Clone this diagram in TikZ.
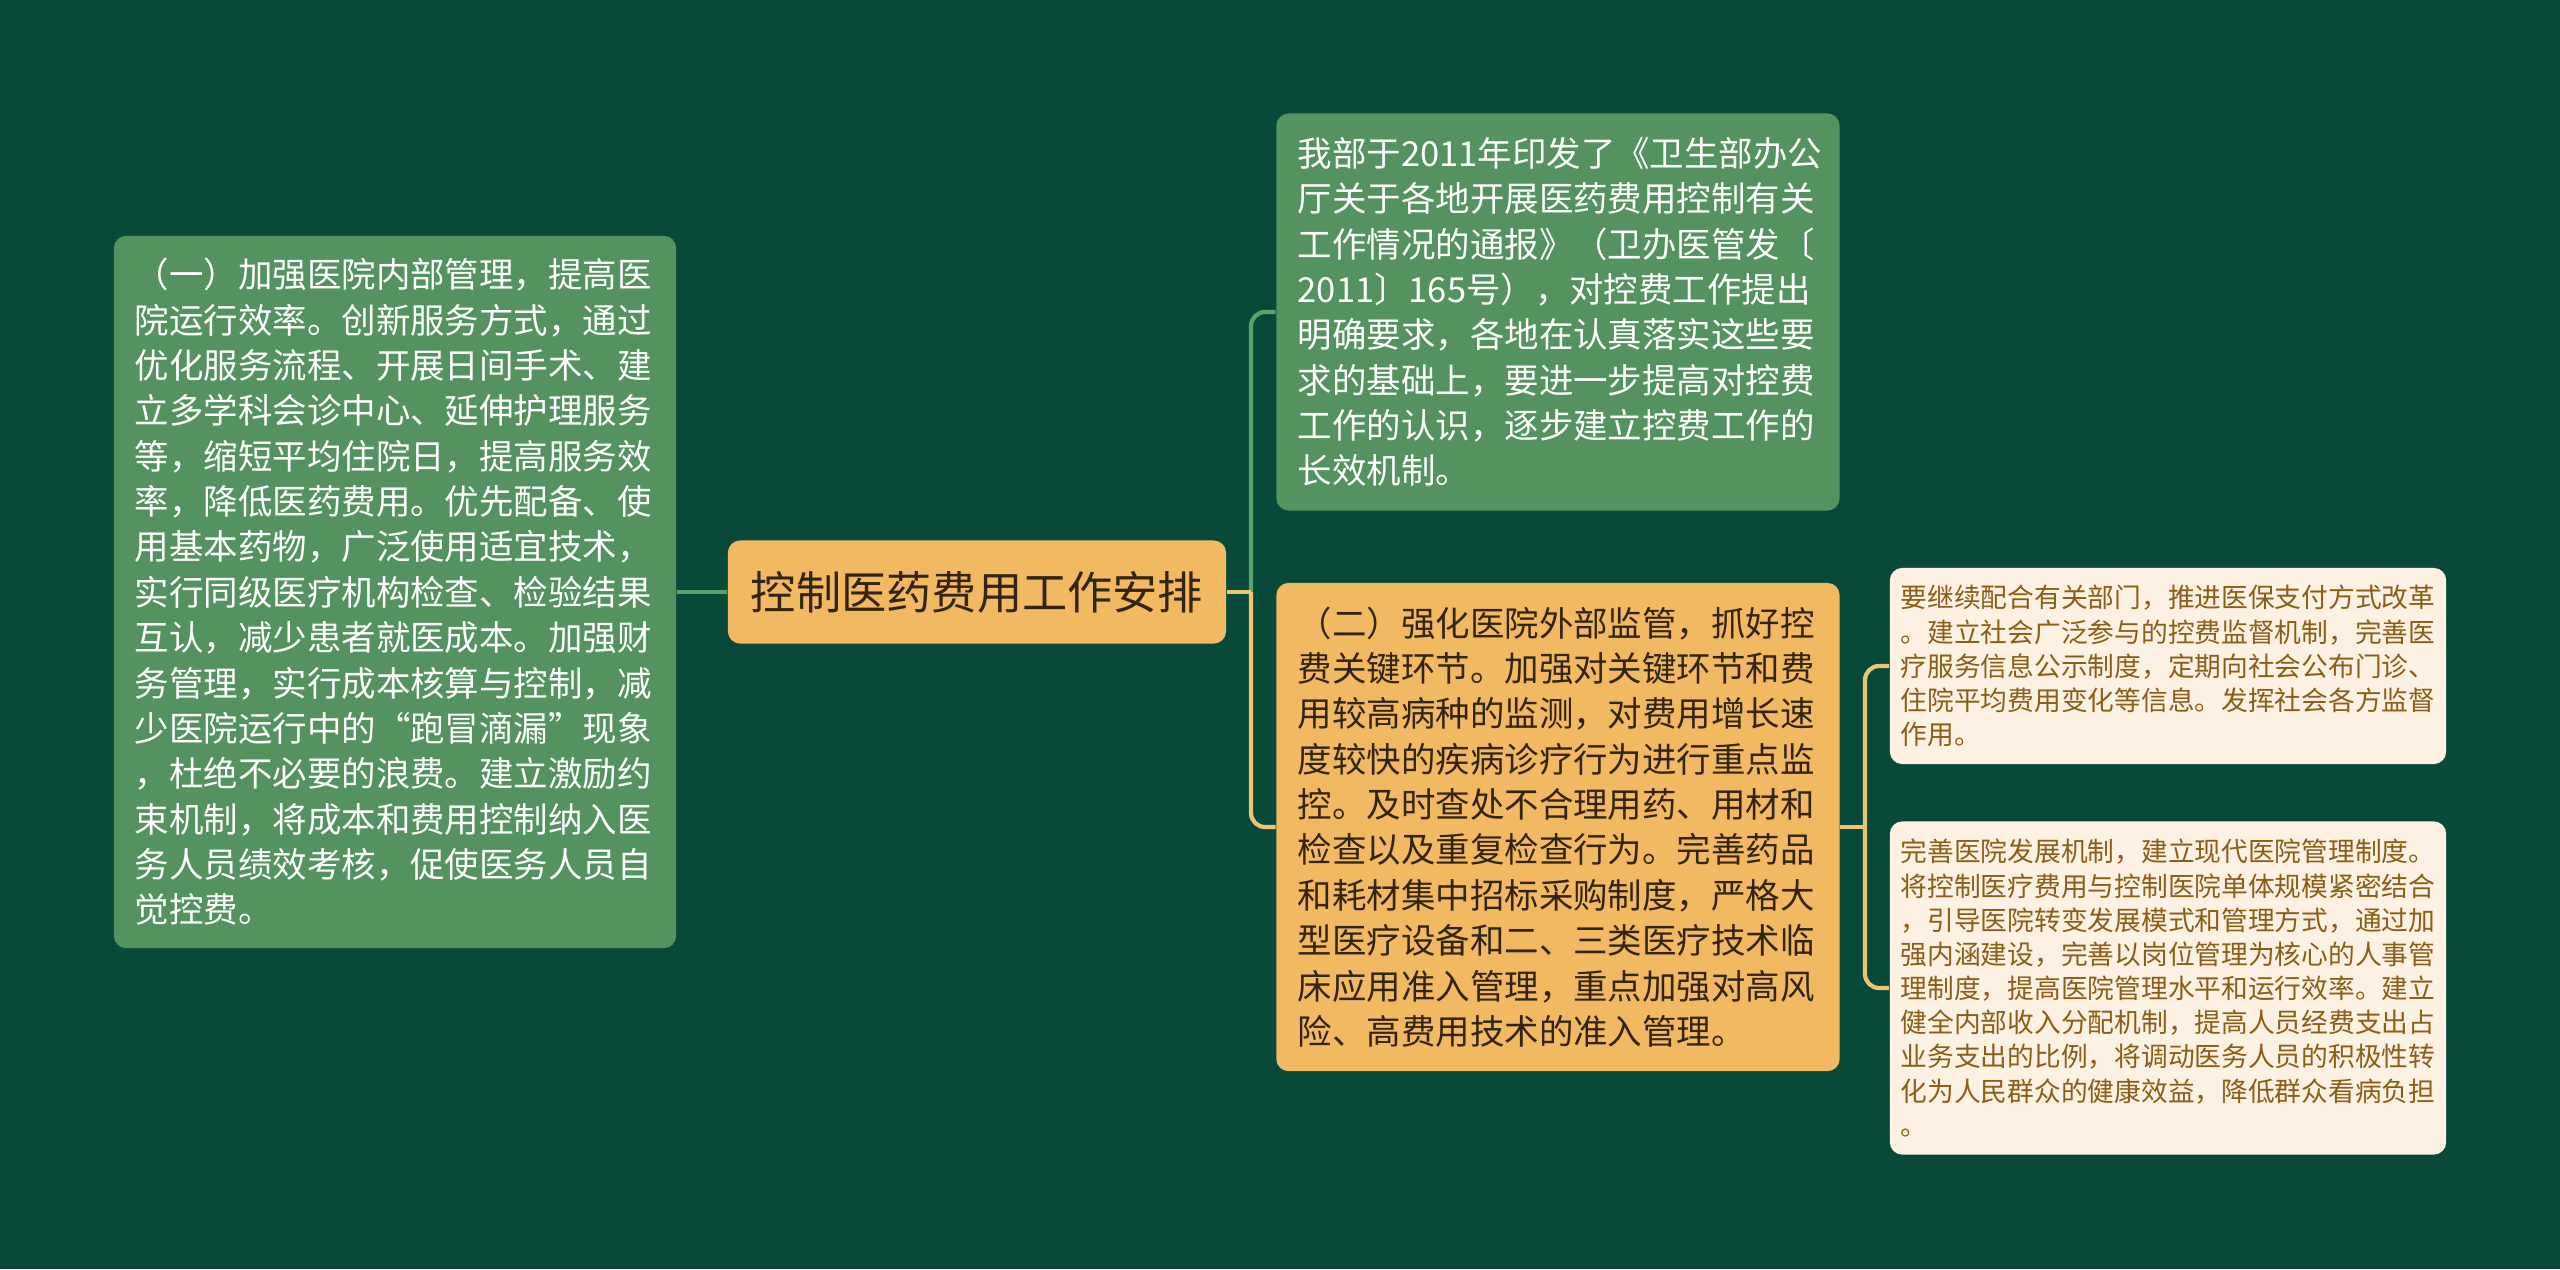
\documentclass[tikz,border=0pt]{standalone}
\usepackage{fontspec}
\setmainfont{Noto Sans CJK SC}
\usepackage{xcolor}
\usepackage{tikz}
\definecolor{darkbg}{RGB}{9, 73, 58}
\definecolor{leafgreen}{RGB}{84, 147, 96}
\definecolor{warmorange}{RGB}{240, 185, 98}
\definecolor{paper}{RGB}{253, 241, 227}
\definecolor{inkbrown}{RGB}{139, 94, 23}
\definecolor{inkdark}{RGB}{50, 36, 16}
\definecolor{linegreen}{RGB}{92, 160, 108}
\definecolor{lineyellow}{RGB}{236, 196, 116}

\begin{document}
\begin{tikzpicture}[x = 0.01cm, y = -0.01cm,
	every node/.style = {align = left, rounded corners = 3.5pt, inner sep = 0pt},
	greenbox/.style = {fill = leafgreen, text = white, text width = 148pt, font = \fontsize{9.8pt}{12.9pt}\selectfont},
	orangebox/.style = {fill = warmorange, text = inkdark, text width = 148pt, font = \fontsize{9.8pt}{12.9pt}\selectfont},
	paperbox/.style = {fill = paper, text = inkbrown, text width = 152pt, font = \fontsize{7.6pt}{9.72pt}\selectfont},
	gline/.style = {draw = linegreen, line width = 1.2pt},
	yline/.style = {draw = lineyellow, line width = 1.2pt}]
	\fill[darkbg] (0,0) rectangle (2560,1269);
	\node (root) at (977,592) [fill = warmorange, text = inkdark, align = center, minimum width = 4.98cm, minimum height = 1.03cm, font = \fontsize{12.86pt}{15pt}\selectfont] {控制医药费用工作安排};
	\node (left) at (395,592) [greenbox, minimum width = 5.62cm, minimum height = 7.12cm] {（一）加强医院内部管理，提高医\\院运行效率。创新服务方式，通过\\优化服务流程、开展日间手术、建\\立多学科会诊中心、延伸护理服务\\等，缩短平均住院日，提高服务效\\率，降低医药费用。优先配备、使\\用基本药物，广泛使用适宜技术，\\实行同级医疗机构检查、检验结果\\互认，减少患者就医成本。加强财\\务管理，实行成本核算与控制，减\\少医院运行中的“跑冒滴漏”现象\\，杜绝不必要的浪费。建立激励约\\束机制，将成本和费用控制纳入医\\务人员绩效考核，促使医务人员自\\觉控费。};
	\node (topg) at (1558,312) [greenbox, minimum width = 5.63cm, minimum height = 3.97cm] {我部于2011年印发了《卫生部办公\\厅关于各地开展医药费用控制有关\\工作情况的通报》（卫办医管发〔\\2011〕165号），对控费工作提出\\明确要求，各地在认真落实这些要\\求的基础上，要进一步提高对控费\\工作的认识，逐步建立控费工作的\\长效机制。};
	\node (orng) at (1558,827) [orangebox, minimum width = 5.63cm, minimum height = 4.88cm] {（二）强化医院外部监管，抓好控\\费关键环节。加强对关键环节和费\\用较高病种的监测，对费用增长速\\度较快的疾病诊疗行为进行重点监\\控。及时查处不合理用药、用材和\\检查以及重复检查行为。完善药品\\和耗材集中招标采购制度，严格大\\型医疗设备和二、三类医疗技术临\\床应用准入管理，重点加强对高风\\险、高费用技术的准入管理。};
	\node (s1) at (2168,666) [paperbox, minimum width = 5.56cm, minimum height = 1.96cm] {要继续配合有关部门，推进医保支付方式改革\\。建立社会广泛参与的控费监督机制，完善医\\疗服务信息公示制度，定期向社会公布门诊、\\住院平均费用变化等信息。发挥社会各方监督\\作用。};
	\node (s2) at (2168,988) [paperbox, minimum width = 5.56cm, minimum height = 3.33cm] {完善医院发展机制，建立现代医院管理制度。\\将控制医疗费用与控制医院单体规模紧密结合\\，引导医院转变发展模式和管理方式，通过加\\强内涵建设，完善以岗位管理为核心的人事管\\理制度，提高医院管理水平和运行效率。建立\\健全内部收入分配机制，提高人员经费支出占\\业务支出的比例，将调动医务人员的积极性转\\化为人民群众的健康效益，降低群众看病负担\\。};
	\coordinate (jr) at (1251,592);
	\coordinate (js) at (1865,827);
	\draw[gline] (root.west) -- (left.east);
	\draw[gline, rounded corners = 4pt] (jr) |- (topg.west);
	\draw[yline] (root.east) -- (jr);
	\draw[yline, rounded corners = 4pt] (jr) |- (orng.west);
	\draw[yline] (orng.east) -- (js);
	\draw[yline, rounded corners = 4pt] (js) |- (s1.west);
	\draw[yline, rounded corners = 4pt] (js) |- (s2.west);
\end{tikzpicture}
\end{document}
